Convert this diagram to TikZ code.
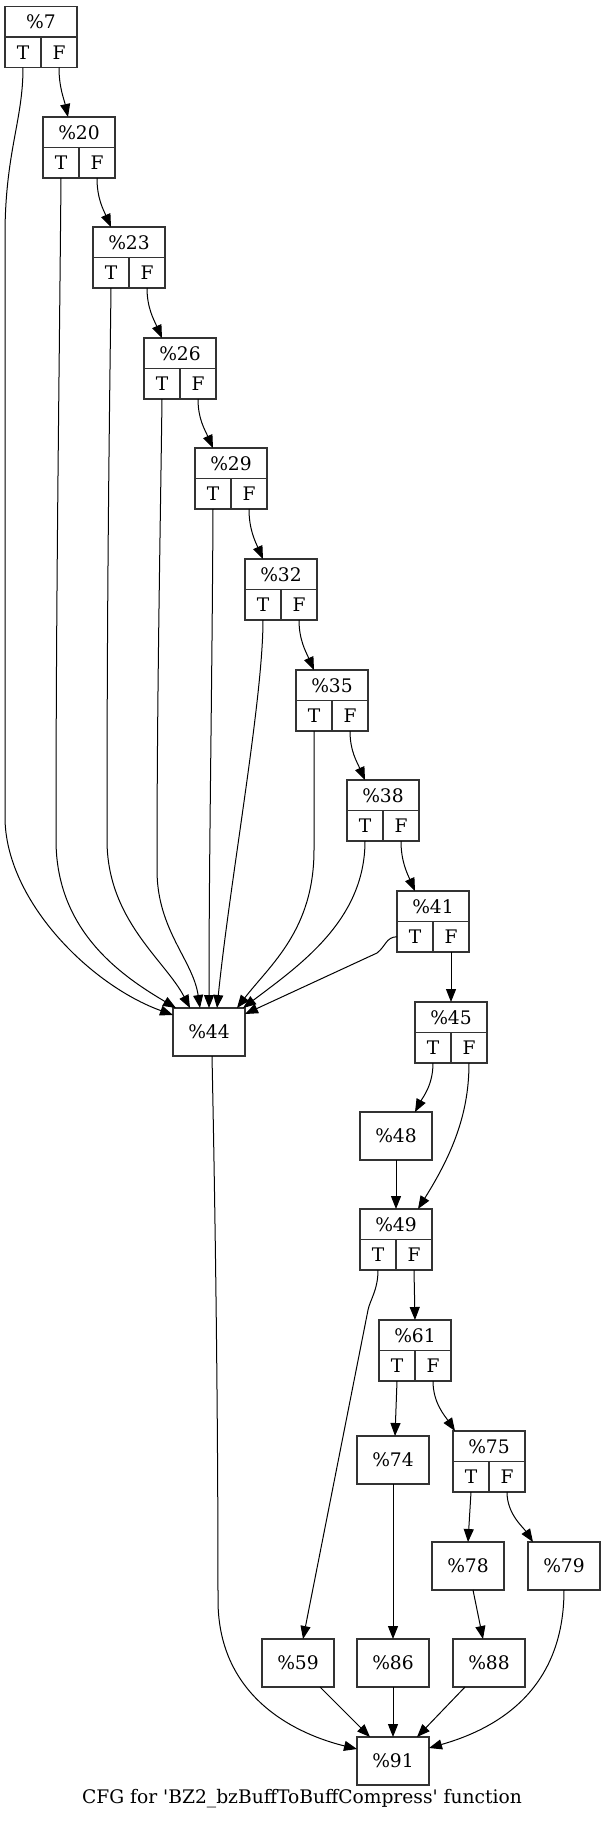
\documentclass[tikz,border=0pt]{standalone}
\usepackage{fontspec}
\setmainfont{DejaVu Serif}
\usetikzlibrary{arrows.meta}
\newcommand\recnode[4]{%
  \node[hd] (#1) at (#2,#3+15.25) {#4};
  \node[cell,anchor=north east] (#1T) at (#1.south) {T};
  \node[cell,anchor=north west] (#1F) at (#1.south) {F};
}
\begin{document}
\begin{tikzpicture}[x=1pt,y=-1pt,
  lbl/.style={font=\fontsize{18.67}{22}\selectfont},
  hd/.style={draw=black!80, lbl, line width=1.2pt, outer sep=0pt, inner sep=0pt, minimum width=72pt, minimum height=30.5pt},
  cell/.style={draw=black!80, lbl, line width=1.2pt, outer sep=0pt, inner sep=0pt, minimum width=36pt, minimum height=30.5pt},
  blk/.style={draw=black!80, lbl, line width=1.2pt, outer sep=0pt, inner sep=0pt, minimum width=72pt, minimum height=48pt},
  e/.style={line width=1pt, -{Triangle[length=13pt,width=10pt]}}]
\useasboundingbox (0,0) rectangle (605,1821);

% record nodes
\recnode{n7}{41}{6.5}{\%7}
\recnode{n20}{79}{117}{\%20}
\recnode{n23}{129}{227}{\%23}
\recnode{n26}{180}{338}{\%26}
\recnode{n29}{231}{448}{\%29}
\recnode{n32}{281}{559}{\%32}
\recnode{n35}{332}{670}{\%35}
\recnode{n38}{383}{780}{\%38}
\recnode{n41}{433}{891}{\%41}
\recnode{n45}{451}{1002}{\%45}
\recnode{n49}{396}{1209}{\%49}
\recnode{n61}{415}{1320}{\%61}
\recnode{n75}{489}{1431}{\%75}

% plain nodes
\node[blk] (n44) at (209,1032) {\%44};
\node[blk] (n48) at (396,1136) {\%48};
\node[blk] (n74) at (393,1460) {\%74};
\node[blk] (n78) at (468,1566) {\%78};
\node[blk] (n79) at (564,1566) {\%79};
\node[blk] (n59) at (298,1663) {\%59};
\node[blk] (n86) at (393,1663) {\%86};
\node[blk] (n88) at (489,1663) {\%88};
\node[blk] (n91) at (393,1761) {\%91};

\node[lbl] (cap) at (302,1799) {CFG for \textquotesingle BZ2\_bzBuffToBuffCompress\textquotesingle\ function};

% chain of F edges
\draw[e] (n7F.south) .. controls +(0,20) and +(-4,-18) .. ([xshift=-11pt]n20.north);
\draw[e] (n20F.south) .. controls +(0,20) and +(-8,-18) .. ([xshift=-18pt]n23.north);
\draw[e] (n23F.south) .. controls +(0,20) and +(-8,-18) .. ([xshift=-18pt]n26.north);
\draw[e] (n26F.south) .. controls +(0,20) and +(-8,-18) .. ([xshift=-18pt]n29.north);
\draw[e] (n29F.south) .. controls +(0,20) and +(-8,-18) .. ([xshift=-18pt]n32.north);
\draw[e] (n32F.south) .. controls +(0,20) and +(-8,-18) .. ([xshift=-18pt]n35.north);
\draw[e] (n35F.south) .. controls +(0,20) and +(-8,-18) .. ([xshift=-18pt]n38.north);
\draw[e] (n38F.south) .. controls +(0,20) and +(-8,-18) .. ([xshift=-18pt]n41.north);
\draw[e] (n41F.south) -- (n45.north);

% T edges into %44
\draw[e] (n7T.south) .. controls (23,120) and (6,150) .. (5,230) -- (5,817) .. controls (5,900) and (90,985) .. ([yshift=17pt]n44.west);
\draw[e] (n20T.south) .. controls (59,400) and (56,600) .. (56,840) .. controls (56,930) and (120,975) .. ([xshift=-33pt]n44.north);
\draw[e] (n23T.south) .. controls (109,450) and (107,600) .. (107,840) .. controls (107,920) and (165,960) .. ([xshift=-19pt]n44.north);
\draw[e] (n26T.south) .. controls (160,550) and (157,700) .. (157,870) .. controls (157,930) and (193,960) .. ([xshift=-9pt]n44.north);
\draw[e] (n29T.south) .. controls (212,700) and (209,850) .. (n44.north);
\draw[e] (n32T.south) .. controls (263,700) and (230,880) .. ([xshift=8pt]n44.north);
\draw[e] (n35T.south) -- (314,850) .. controls (314,930) and (270,965) .. ([xshift=28pt]n44.north);
\draw[e] (n38T.south) .. controls (365,920) and (300,965) .. ([xshift=-2pt]n44.north east);
\draw[e] (n41T.west) .. controls (386,937) and (386,946) .. (377,953) -- ([yshift=18pt]n44.east);

% lower part
\draw[e] (n45T.south) .. controls +(0,22) and +(8,-15) .. ([xshift=19pt]n48.north);
\draw[e] (n45F.south) .. controls (469,1110) and (455,1150) .. ([xshift=22pt]n49.north);
\draw[e] (n48.south) -- (n49.north);
\draw[e] (n49T.south) .. controls (378,1290) and (370,1300) .. (368,1310) -- ([xshift=5pt]n59.north);
\draw[e] (n49F.south) -- (n61.north);
\draw[e] (n61T.south) -- ([xshift=2pt]n74.north);
\draw[e] (n61F.south) .. controls +(0,22) and +(-10,-15) .. ([xshift=-34pt]n75.north);
\draw[e] (n75T.south) -- (n78.north);
\draw[e] (n75F.south) .. controls +(0,22) and +(-10,-15) .. ([xshift=-31pt]n79.north);
\draw[e] (n74.south) -- (n86.north);
\draw[e] ([xshift=5pt]n78.south) -- ([xshift=-6pt]n88.north);
\draw[e] ([xshift=22pt]n59.south) -- ([xshift=-23pt]n91.north);
\draw[e] (n86.south) -- (n91.north);
\draw[e] ([xshift=-24pt]n88.south) -- ([xshift=24pt]n91.north);
\draw[e] (n79.south) .. controls (564,1680) and (510,1725) .. ([yshift=13pt]n91.east);
\draw[e] ([xshift=3pt]n44.south) .. controls (215,1200) and (218,1400) .. (218,1600) .. controls (218,1700) and (300,1735) .. ([yshift=12pt]n91.west);
\end{tikzpicture}
\end{document}
